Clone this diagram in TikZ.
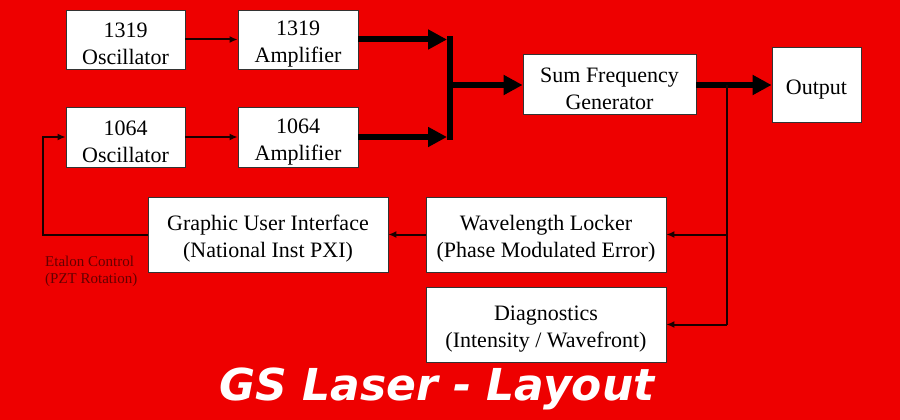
\documentclass[tikz,border=0pt]{standalone}
\usepackage{fontspec}
\setmainfont{Liberation Serif}
\newfontfamily\titlefont{DejaVu Sans}
\usetikzlibrary{arrows.meta}
\definecolor{bgred}{RGB}{238,0,0}
\definecolor{labred}{RGB}{100,0,0}
\tikzset{
  box/.style={draw=black!80, line width=0.8pt, fill=white, inner sep=0pt, align=center,
    font=\fontsize{22}{27}\selectfont},
  thinarrow/.style={draw=black!90!red, line width=2pt, -{Latex[length=8pt,width=7pt]}},
  thinline/.style={draw=black!90!red, line width=2pt},
  thickarrow/.style={draw=black, line width=6pt, -{Triangle[length=19pt,width=19pt]}},
  thickline/.style={draw=black, line width=6pt},
}
\begin{document}
\begin{tikzpicture}[x=1pt,y=-1pt]
\fill[bgred] (0,0) rectangle (900,420);
\useasboundingbox (0,0) rectangle (900,420);

\node[box, minimum width=119pt, minimum height=59pt] (o1) at (125.5,39.5) {\rule{0pt}{24pt}1319\\Oscillator};
\node[box, minimum width=120pt, minimum height=59pt] (a1) at (298,39.5) {\rule{0pt}{24pt}1319\\Amplifier};
\node[box, minimum width=119pt, minimum height=60pt] (o2) at (125.5,137) {\rule{0pt}{24pt}1064\\Oscillator};
\node[box, minimum width=120pt, minimum height=60pt] (a2) at (298,137) {\rule{0pt}{24pt}1064\\Amplifier};
\node[box, minimum width=173pt, minimum height=60pt] (sfg) at (609.5,84) {\rule{0pt}{24pt}Sum Frequency\\Generator};
\node[box, minimum width=89pt, minimum height=75pt] (out) at (816.5,84.5) {\rule{0pt}{24pt}Output};
\node[box, minimum width=240pt, minimum height=75pt] (gui) at (268,234.5) {\rule{0pt}{24pt}Graphic User Interface\\(National Inst PXI)};
\node[box, minimum width=240pt, minimum height=75pt] (wl) at (546,234.5) {\rule{0pt}{24pt}Wavelength Locker\\(Phase Modulated Error)};
\node[box, minimum width=240pt, minimum height=75pt] (dg) at (546,324.5) {\rule{0pt}{24pt}Diagnostics\\(Intensity / Wavefront)};

\coordinate (b1) at (450,39.5);
\coordinate (b2) at (450,137);
\coordinate (bm) at (450,85);
\coordinate (b1e) at (450,36.5);
\coordinate (b2e) at (450,140);
\coordinate (sp) at (727,85);
\coordinate (fb) at (43,234.5);

\draw[thinarrow] (o1) -- (a1);
\draw[thinarrow] (o2) -- (a2);
\draw[thickarrow] (a1.east) -- ([xshift=-3pt]b1);
\draw[thickarrow] (a2.east) -- ([xshift=-3pt]b2);
\draw[thickline] (b1e) -- (b2e);
\draw[thickarrow] ([xshift=-3pt]bm) -- (bm -| sfg.west);
\draw[thickarrow] (sfg.east |- sp) -- (sp -| out.west);
\draw[thinline] (sp) -- (sp |- dg.east);
\draw[thinarrow] (sp |- wl.east) -- (wl.east);
\draw[thinarrow] (sp |- dg.east) -- (dg.east);
\draw[thinarrow] (wl.west) -- (gui.east);
\draw[thinarrow] (gui.west) -- (fb) |- (o2.west);

\node[text=labred, align=left, anchor=north west, inner sep=0pt,
  font=\fontsize{15}{17}\selectfont] (lab) at (45,256) {Etalon Control\\(PZT Rotation)};

\node[text=white, inner sep=0pt, font=\titlefont\bfseries\itshape\fontsize{44}{50}\selectfont]
  (title) at (437,389) {GS Laser - Layout};
\end{tikzpicture}
\end{document}
